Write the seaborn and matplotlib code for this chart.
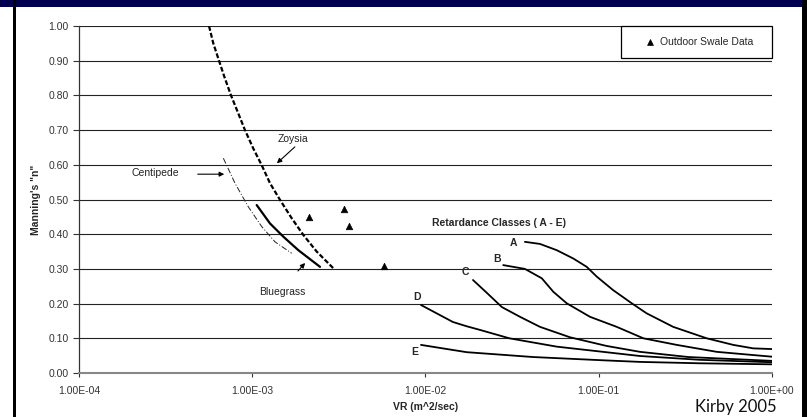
import numpy as np
import matplotlib
matplotlib.use("Agg")
import matplotlib.pyplot as plt
from matplotlib.patches import Rectangle
import seaborn as sns

# Turf grass curves (VR in m^2/sec, Manning's n)
zoysia_vr = [5.63e-4, 5.96e-4, 6.43e-4, 6.90e-4, 7.54e-4, 8.31e-4, 9.08e-4, 1.014e-3,
             1.134e-3, 1.266e-3, 1.446e-3, 1.690e-3, 1.971e-3, 2.355e-3, 2.976e-3]
zoysia_n = [1.00, 0.950, 0.900, 0.854, 0.800, 0.748, 0.700, 0.647,
            0.599, 0.547, 0.499, 0.446, 0.398, 0.350, 0.299]

bluegrass_vr = [1.061e-3, 1.266e-3, 1.511e-3, 1.845e-3, 2.461e-3]
bluegrass_n = [0.484, 0.431, 0.393, 0.354, 0.306]

centipede_vr = [6.81e-4, 7.95e-4, 9.49e-4, 1.134e-3, 1.353e-3, 1.690e-3]
centipede_n = [0.619, 0.547, 0.479, 0.422, 0.378, 0.345]

# Outdoor swale data
swale_vr = [2.13e-3, 3.39e-3, 3.62e-3, 5.76e-3]
swale_n = [0.449, 0.472, 0.424, 0.308]

# Retardance classes A - E
a_vr = [3.75e-2, 4.58e-2, 5.72e-2, 7.13e-2, 8.52e-2, 9.73e-2, 0.121, 0.155, 0.189,
        0.269, 0.42, 0.598, 0.78, 1.0]
a_n = [0.378, 0.372, 0.354, 0.330, 0.306, 0.278, 0.239, 0.201, 0.172,
       0.133, 0.100, 0.081, 0.071, 0.069]
b_vr = [2.81e-2, 3.75e-2, 4.69e-2, 5.47e-2, 6.53e-2, 8.9e-2, 0.127, 0.181, 0.282, 0.48, 1.0]
b_n = [0.311, 0.300, 0.273, 0.234, 0.201, 0.162, 0.133, 0.100, 0.081, 0.061, 0.047]
c_vr = [1.88e-2, 2.26e-2, 2.76e-2, 3.51e-2, 4.58e-2, 6.82e-2, 0.111, 0.173, 0.33, 1.0]
c_n = [0.268, 0.231, 0.190, 0.162, 0.133, 0.103, 0.078, 0.061, 0.046, 0.035]
d_vr = [9.42e-3, 1.44e-2, 1.72e-2, 2.07e-2, 3.05e-2, 5.72e-2, 0.173, 0.384, 1.0]
d_n = [0.196, 0.147, 0.135, 0.124, 0.100, 0.076, 0.049, 0.038, 0.031]
e_vr = [9.42e-3, 1.73e-2, 4.19e-2, 0.102, 0.173, 0.384, 1.0]
e_n = [0.081, 0.060, 0.046, 0.037, 0.032, 0.028, 0.025]

x_ticks = [1e-4, 1e-3, 1e-2, 1e-1, 1e0]
x_labels = ["1.00E-04", "1.00E-03", "1.00E-02", "1.00E-01", "1.00E+00"]
y_ticks = [0.0, 0.1, 0.2, 0.3, 0.4, 0.5, 0.6, 0.7, 0.8, 0.9, 1.0]

sns.set_style("white")
plt.rcParams["font.family"] = ["Liberation Sans", "DejaVu Sans"]

fig = plt.figure(figsize=(8.07, 4.17), dpi=100)
ax = fig.add_axes([0.0979, 0.1055, 0.8587, 0.8321])

# gridlines
for yv in y_ticks[1:]:
    ax.axhline(yv, color="#222222", lw=0.8, zorder=0)

sns.lineplot(x=zoysia_vr, y=zoysia_n, ax=ax, color="black", lw=1.6,
             linestyle=(0, (2.2, 1.0)), sort=False, estimator=None)
sns.lineplot(x=bluegrass_vr, y=bluegrass_n, ax=ax, color="black", lw=1.6,
             sort=False, estimator=None)
sns.lineplot(x=centipede_vr, y=centipede_n, ax=ax, color="#222222", lw=0.7,
             linestyle=(0, (6, 2, 1, 2)), sort=False, estimator=None)

for xs, ys in [(a_vr, a_n), (b_vr, b_n), (c_vr, c_n), (d_vr, d_n), (e_vr, e_n)]:
    sns.lineplot(x=xs, y=ys, ax=ax, color="black", lw=1.3, sort=False, estimator=None)

sns.scatterplot(x=swale_vr, y=swale_n, ax=ax, marker="^", color="black", s=22,
                edgecolor="black", linewidth=0.5, label="Outdoor Swale Data", zorder=5)

ax.set_xscale("log")
ax.set_xlim(1e-4, 1e0)
ax.set_ylim(0, 1.0)
ax.set_xticks(x_ticks)
ax.set_xticklabels(x_labels)
ax.minorticks_off()
ax.set_yticks(y_ticks)
ax.set_yticklabels([f"{v:.2f}" for v in y_ticks])
ax.tick_params(axis="both", labelsize=7.5, colors="#333333", length=4, width=0.8,
               direction="out", bottom=True, left=True)
ax.tick_params(axis="x", length=3, pad=6)

for s in ["top", "right"]:
    ax.spines[s].set_visible(False)
ax.spines["left"].set_color("#333333")
ax.spines["left"].set_linewidth(0.9)
ax.spines["bottom"].set_color("#888888")
ax.spines["bottom"].set_linewidth(1.5)

ax.set_xlabel("VR (m^2/sec)", fontsize=7.5, fontweight="bold", labelpad=5)
ax.set_ylabel('Manning\'s "n"', fontsize=7.5, fontweight="bold", labelpad=5)

# legend with square box
box = Rectangle((0.7821, 0.9066), 0.2179, 0.0934, transform=ax.transAxes,
                facecolor="white", edgecolor="black", lw=0.9, zorder=6, clip_on=False)
ax.add_patch(box)
leg = ax.legend(loc="center", bbox_to_anchor=(0.8911, 0.9533), frameon=False,
                fontsize=7.5, handletextpad=0.0, markerscale=0.9, borderpad=0)
leg.set_zorder(7)

# annotations
txt = dict(fontsize=7.5, color="#222222", ha="center", va="center")
arrow = dict(arrowstyle="-|>", color="black", lw=0.8, mutation_scale=7)
ax.text(1.72e-3, 0.674, "Zoysia", **txt)
ax.annotate("", xy=(1.35e-3, 0.599), xytext=(1.81e-3, 0.657), arrowprops=arrow)
ax.text(2.75e-4, 0.576, "Centipede", **txt)
ax.annotate("", xy=(7.15e-4, 0.573), xytext=(4.67e-4, 0.573), arrowprops=arrow)
ax.text(1.49e-3, 0.233, "Bluegrass", **txt)
ax.annotate("", xy=(2.07e-3, 0.323), xytext=(1.79e-3, 0.288), arrowprops=arrow)
ax.text(2.66e-2, 0.432, "Retardance Classes ( A - E)", fontsize=7.5,
        fontweight="bold", ha="center", va="center")

class_labels = ["A", "B", "C", "D", "E"]
label_vr = [3.2e-2, 2.59e-2, 1.69e-2, 8.93e-3, 8.7e-3]
label_n = [0.375, 0.329, 0.291, 0.219, 0.0605]
for lab, xv, yv in zip(class_labels, label_vr, label_n):
    ax.text(xv, yv, lab, fontsize=7.5, fontweight="bold", ha="center", va="center")

# slide frame
fig.patches.append(Rectangle((0, 1 - 7 / 417), 1, 7 / 417, transform=fig.transFigure,
                             facecolor="#000050", edgecolor="none"))
fig.patches.append(Rectangle((13 / 807, 0), 3 / 807, 1, transform=fig.transFigure,
                             facecolor="black", edgecolor="none"))
fig.patches.append(Rectangle((802 / 807, 0), 5 / 807, 1, transform=fig.transFigure,
                             facecolor="black", edgecolor="none"))
fig.text(736 / 807, 1 - 407 / 417, "Kirby 2005", fontsize=12, family=["Lato", "DejaVu Sans"],
         ha="center", va="center", color="#111111")

fig.savefig("out.png", dpi=100)
